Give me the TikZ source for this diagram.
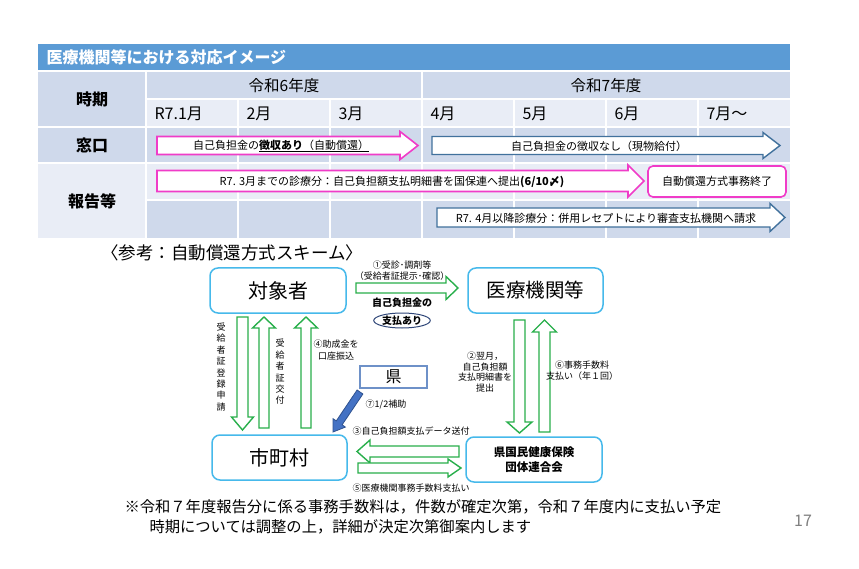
\documentclass[tikz,border=0pt]{standalone}
\usepackage{fontspec}
\setmainfont{Noto Sans CJK JP}
\usetikzlibrary{shapes.geometric}
\definecolor{titleblue}{RGB}{91,155,213}
\definecolor{celldark}{RGB}{207,217,235}
\definecolor{celllight}{RGB}{233,237,246}
\definecolor{pinkline}{RGB}{240,60,200}
\definecolor{steel}{RGB}{65,113,156}
\definecolor{gline}{RGB}{40,175,75}
\definecolor{boxblue}{RGB}{70,185,235}
\definecolor{kenblue}{RGB}{110,145,200}
\definecolor{arrowfill}{RGB}{68,114,196}
\definecolor{arrowedge}{RGB}{47,82,143}
\definecolor{ovalblue}{RGB}{47,70,120}
\newcommand\fs[1]{\fontsize{#1}{#1}\selectfont}
\newcommand\harrow[7]{\draw[#1] ({#2},{#5-#6}) -- ({#3},{#5-#6}) -- ({#3},{#5-#7}) -- ({#4},{#5}) -- ({#3},{#5+#7}) -- ({#3},{#5+#6}) -- ({#2},{#5+#6}) -- cycle;}
\newcommand\varrow[7]{\draw[#1] ({#5-#6},{#2}) -- ({#5-#6},{#3}) -- ({#5-#7},{#3}) -- ({#5},{#4}) -- ({#5+#7},{#3}) -- ({#5+#6},{#3}) -- ({#5+#6},{#2}) -- cycle;}
\tikzset{
  pinkarrow/.style={draw=pinkline,fill=white,line width=1.6pt,line join=miter},
  bluearrow/.style={draw=steel,fill=white,line width=1.4pt,line join=miter},
  garrow/.style={draw=gline,fill=white,line width=1.4pt,line join=miter},
  gridline/.style={draw=white,line width=2pt},
  rowhead/.style={font=\bfseries\fs{16}},
  yearlbl/.style={font=\fs{15.5}},
  monthlbl/.style={font=\fs{16},anchor=west},
  arrowtxt/.style={font=\fs{11}},
  schemebox/.style={draw=boxblue,fill=white,line width=1.5pt,rounded corners=8pt,minimum height=45pt,inner sep=0pt},
  smalllbl/.style={font=\fs{9},align=center},
  vlbl/.style={font=\fontsize{9}{11.4}\selectfont,align=center},
}
\begin{document}
\begin{tikzpicture}[x=1pt,y=-1pt]
\useasboundingbox (0,0) rectangle (859,569);
\fill[white] (0,0) rectangle (859,569);
% table
\fill[titleblue] (38,44) rectangle (790,70);
\node[anchor=west,text=white,font=\bfseries\fs{16}] (title) at (43,57.5) {医療機関等における対応イメージ};
\fill[celldark] (38,71) rectangle (146,127);
\fill[celldark] (38,127) rectangle (146,163);
\fill[celllight] (38,163) rectangle (146,238);
\fill[celldark] (146,71) rectangle (790,99);
\fill[celllight] (146,99) rectangle (790,127);
\fill[celldark] (146,127) rectangle (790,163);
\fill[celllight] (146,163) rectangle (790,200);
\fill[celldark] (146,200) rectangle (790,238);
\draw[gridline] (38,71) -- (790,71);
\draw[gridline] (146,99) -- (790,99);
\draw[gridline] (38,127) -- (790,127);
\draw[gridline] (38,163) -- (790,163);
\draw[gridline] (146,200) -- (790,200);
\draw[gridline] (146,71) -- (146,238);
\draw[gridline] (422,71) -- (422,238);
\foreach \xx in {238,330,514,606,698} {\draw[gridline] (\xx,99) -- (\xx,238);}
\node[rowhead] (jiki) at (92,99) {時期};
\node[rowhead] (madoguchi) at (92,145) {窓口};
\node[rowhead] (houkoku) at (92,201) {報告等};
\node[yearlbl] (r6) at (284,86) {令和6年度};
\node[yearlbl] (r7) at (606,86) {令和7年度};
\node[monthlbl] (m1) at (151,113.5) {R7.1月};
\node[monthlbl] (m2) at (243,113.5) {2月};
\node[monthlbl] (m3) at (335,113.5) {3月};
\node[monthlbl] (m4) at (427,113.5) {4月};
\node[monthlbl] (m5) at (519,113.5) {5月};
\node[monthlbl] (m6) at (611,113.5) {6月};
\node[monthlbl] (m7) at (703,113.5) {7月～};
% table arrows
\harrow{pinkarrow}{157}{400}{418}{145.5}{9}{14}
\node[arrowtxt] (t1) at (281,146) {自己負担金の\underline{\textbf{徴収あり}（自動償還）}};
\harrow{bluearrow}{432}{763}{780}{145.5}{9}{13}
\node[arrowtxt] (t2) at (599,146) {自己負担金の徴収なし（現物給付）};
\harrow{pinkarrow}{157}{628}{644}{181}{10.5}{16}
\node[arrowtxt] (t3) at (392,181.5) {R7. 3月までの診療分：自己負担額支払明細書を国保連へ提出\textbf{(6/10〆)}};
\node[draw=pinkline,fill=white,line width=1.6pt,rounded corners=5pt,minimum width=138pt,minimum height=31pt,inner sep=0pt,arrowtxt] (end) at (717,181.5) {自動償還方式事務終了};
\harrow{bluearrow}{437}{770}{785}{217.5}{9.5}{14}
\node[arrowtxt] (t4) at (606,218) {R7. 4月以降診療分：併用レセプトにより審査支払機関へ請求};
% scheme
\node[font=\fs{17.5}] (sankou) at (232,253) {〈参考：自動償還方式スキーム〉};
\harrow{garrow}{356}{446}{458}{288}{5}{11.5}
\varrow{garrow}{317}{417}{430}{242.5}{5.5}{11}
\varrow{garrow}{428}{328}{317}{264}{5}{11.5}
\varrow{garrow}{428}{328}{317}{306}{5}{11.5}
\varrow{garrow}{320}{422}{433}{519.5}{5.5}{12.5}
\varrow{garrow}{432}{332}{320}{544.5}{5.5}{12}
\harrow{garrow}{459}{370}{357}{451.5}{5.5}{11.5}
\harrow{garrow}{358}{448}{461}{468}{5}{9}
\node[schemebox,minimum width=136pt,font=\fs{20}] (obj) at (278,290.5) {対象者};
\node[schemebox,minimum width=135pt,font=\fs{19.5}] (med) at (535.5,290.5) {医療機関等};
\node[schemebox,minimum width=135pt,font=\fs{20}] (city) at (279.5,457.5) {市町村};
\node[schemebox,minimum width=136pt,font=\bfseries\fontsize{11.5}{15}\selectfont,align=center] (kokuho) at (534,459.5) {県国民健康保険\\団体連合会};
\node[draw=kenblue,fill=white,line width=1.2pt,minimum width=67pt,minimum height=22pt,inner sep=0pt,font=\fs{16}] (ken) at (393.5,377) {県};
% blue arrow ken -> city
\draw[fill=arrowfill,draw=arrowedge,line width=0.8pt] (362.9,394.0) -- (342.1,424.8) -- (345.4,427.1) -- (333,432) -- (333.0,418.7) -- (336.3,420.9) -- (357.1,390.0) -- cycle;
% labels
\node[smalllbl] (l1a) at (402,265) {①受診･調剤等};
\node[smalllbl] (l1b) at (402,276) {（受給者証提示･確認）};
\node[font=\bfseries\fs{10}] (l1c) at (402,303) {自己負担金の};
\node[ellipse,draw=ovalblue,line width=1pt,minimum width=50pt,minimum height=15pt,inner sep=0pt,font=\bfseries\fs{10}] (pay) at (402,320.5) {支払あり};
\node[vlbl] (v1) at (221,367) {受\\給\\者\\証\\登\\録\\申\\請};
\node[vlbl] (v2) at (280,372) {受\\給\\者\\証\\交\\付};
\node[smalllbl] (l4a) at (336,344) {④助成金を};
\node[smalllbl] (l4b) at (336,356) {口座振込};
\node[font=\fontsize{9}{10.7}\selectfont,align=center] (l2) at (485,372) {②翌月，\\自己負担額\\支払明細書を\\提出};
\node[font=\fontsize{9}{11}\selectfont,align=center] (l6) at (582,370.5) {⑥事務手数料\\支払い（年１回）};
\node[smalllbl] (l7) at (386,404) {⑦1/2補助};
\node[smalllbl] (l3) at (411,431) {③自己負担額支払データ送付};
\node[smalllbl] (l5) at (411,488) {⑤医療機関事務手数料支払い};
% note
\node[anchor=west,font=\fs{15.3}] (note1) at (121,507) {※令和７年度報告分に係る事務手数料は，件数が確定次第，令和７年度内に支払い予定};
\node[anchor=west,font=\fs{15.3}] (note2) at (146,527) {時期については調整の上，詳細が決定次第御案内します};
\node[text=gray,font=\fs{16}] (page) at (803,521) {17};
\end{tikzpicture}
\end{document}
